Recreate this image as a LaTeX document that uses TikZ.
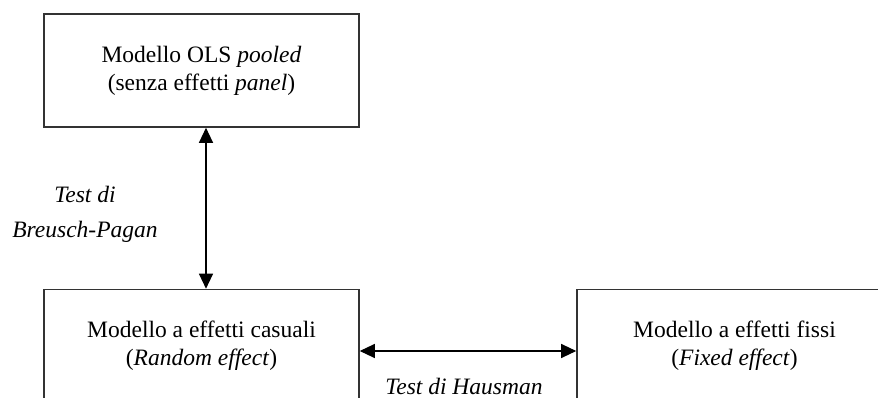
\documentclass[tikz,border=0pt]{standalone}
\usepackage{fontspec}
\setmainfont{Liberation Serif}
\usetikzlibrary{arrows.meta}
\begin{document}
\begin{tikzpicture}[x=1pt,y=-1pt,
 box/.style={draw=black!80, line width=1.6pt, minimum width=315pt, minimum height=113pt, inner sep=0pt, align=center, font=\fontsize{23.5}{28}\selectfont},
 lbl/.style={align=center, inner sep=0pt, font=\fontsize{23.5}{35}\selectfont\itshape},
 conn/.style={line width=1.2pt, {Triangle[length=15pt,width=14pt]}-{Triangle[length=15pt,width=14pt]}}]
\useasboundingbox (0,0) rectangle (878,398);
\clip (0,0) rectangle (878,398);
\node[box] (ols) at (201.5,70.5) {Modello OLS \textit{pooled}\\(senza effetti \textit{panel})};
\node[box] (re) at (201.5,346) {Modello a effetti casuali\\(\textit{Random effect})};
\node[box] (fe) at (734.5,346) {Modello a effetti fissi\\(\textit{Fixed effect})};
\draw[conn] ([xshift=4.5pt]ols.south) -- ([xshift=4.5pt]re.north);
\draw[conn] ([yshift=-5pt]re.east) -- ([yshift=-5pt]fe.west);
\node[lbl] (bp) at (85,214) {Test di\\Breusch-Pagan};
\node[lbl] (ha) at (464,386) {Test di Hausman};
\end{tikzpicture}
\end{document}
